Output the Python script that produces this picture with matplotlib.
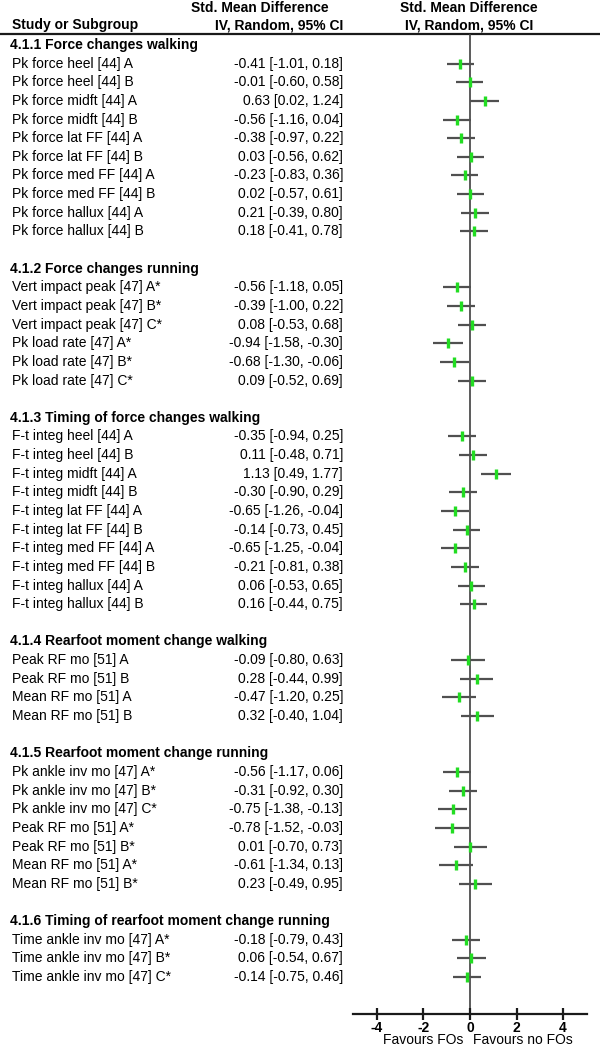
import matplotlib
matplotlib.use("Agg")
import matplotlib.pyplot as plt

plt.rcParams['font.family'] = ['Liberation Sans', 'DejaVu Sans']

section_titles = [
    "4.1.1 Force changes walking",
    "4.1.2 Force changes running",
    "4.1.3 Timing of force changes walking",
    "4.1.4 Rearfoot moment change walking",
    "4.1.5 Rearfoot moment change running",
    "4.1.6 Timing of rearfoot moment change running",
]
section_sizes = [10, 6, 10, 4, 7, 3]

study_labels = [
    "Pk force heel [44] A", "Pk force heel [44] B",
    "Pk force midft [44] A", "Pk force midft [44] B",
    "Pk force lat FF [44] A", "Pk force lat FF [44] B",
    "Pk force med FF [44] A", "Pk force med FF [44] B",
    "Pk force hallux [44] A", "Pk force hallux [44] B",
    "Vert impact peak [47] A*", "Vert impact peak [47] B*", "Vert impact peak [47] C*",
    "Pk load rate [47] A*", "Pk load rate [47] B*", "Pk load rate [47] C*",
    "F-t integ heel [44] A", "F-t integ heel [44] B",
    "F-t integ midft [44] A", "F-t integ midft [44] B",
    "F-t integ lat FF [44] A", "F-t integ lat FF [44] B",
    "F-t integ med FF [44] A", "F-t integ med FF [44] B",
    "F-t integ hallux [44] A", "F-t integ hallux [44] B",
    "Peak RF mo [51] A", "Peak RF mo [51] B",
    "Mean RF mo [51] A", "Mean RF mo [51] B",
    "Pk ankle inv mo [47] A*", "Pk ankle inv mo [47] B*", "Pk ankle inv mo [47] C*",
    "Peak RF mo [51] A*", "Peak RF mo [51] B*",
    "Mean RF mo [51] A*", "Mean RF mo [51] B*",
    "Time ankle inv mo [47] A*", "Time ankle inv mo [47] B*", "Time ankle inv mo [47] C*",
]
smd = [-0.41, -0.01, 0.63, -0.56, -0.38, 0.03, -0.23, 0.02, 0.21, 0.18,
       -0.56, -0.39, 0.08, -0.94, -0.68, 0.09,
       -0.35, 0.11, 1.13, -0.30, -0.65, -0.14, -0.65, -0.21, 0.06, 0.16,
       -0.09, 0.28, -0.47, 0.32,
       -0.56, -0.31, -0.75, -0.78, 0.01, -0.61, 0.23,
       -0.18, 0.06, -0.14]
ci_low = [-1.01, -0.60, 0.02, -1.16, -0.97, -0.56, -0.83, -0.57, -0.39, -0.41,
          -1.18, -1.00, -0.53, -1.58, -1.30, -0.52,
          -0.94, -0.48, 0.49, -0.90, -1.26, -0.73, -1.25, -0.81, -0.53, -0.44,
          -0.80, -0.44, -1.20, -0.40,
          -1.17, -0.92, -1.38, -1.52, -0.70, -1.34, -0.49,
          -0.79, -0.54, -0.75]
ci_high = [0.18, 0.58, 1.24, 0.04, 0.22, 0.62, 0.36, 0.61, 0.80, 0.78,
           0.05, 0.22, 0.68, -0.30, -0.06, 0.69,
           0.25, 0.71, 1.77, 0.29, -0.04, 0.45, -0.04, 0.38, 0.65, 0.75,
           0.63, 0.99, 0.25, 1.04,
           0.06, 0.30, -0.13, -0.03, 0.73, 0.13, 0.95,
           0.43, 0.67, 0.46]
x_ticks = [-4, -2, 0, 2, 4]

# row layout: one line per header/study, blank line between sections
header_rows, study_rows = [], []
line = 0
for n in section_sizes:
    header_rows.append(line)
    study_rows.extend(range(line + 1, line + 1 + n))
    line += n + 2

W, H = 600, 1050
row0_px, row_px = 45.0, 18.64


def px2row(py):
    return (py - row0_px) / row_px


fig = plt.figure(figsize=(W / 100, H / 100), dpi=100)

# text layer in pixel x / row y
ax_t = fig.add_axes([0, 0, 1, 1])
ax_t.set_xlim(0, W)
ax_t.set_ylim(px2row(H), px2row(0))
ax_t.axis('off')

fs = 10
ax_t.text(12, px2row(25), "Study or Subgroup", fontsize=fs, fontweight='bold',
          va='center', ha='left')
ax_t.text(260, px2row(8), "Std. Mean Difference", fontsize=fs, fontweight='bold',
          va='center', ha='center')
ax_t.text(343, px2row(25), "IV, Random, 95% CI", fontsize=fs, fontweight='bold',
          va='center', ha='right')
ax_t.text(469, px2row(8), "Std. Mean Difference", fontsize=fs, fontweight='bold',
          va='center', ha='center')
ax_t.text(469, px2row(25), "IV, Random, 95% CI", fontsize=fs, fontweight='bold',
          va='center', ha='center')
ax_t.plot([0, W], [px2row(34), px2row(34)], color='#1a1a1a', lw=1.6,
          solid_capstyle='butt')

for title, r in zip(section_titles, header_rows):
    ax_t.text(10, r, title, fontsize=fs, fontweight='bold', va='center', ha='left')

for lab, r, m, lo, hi in zip(study_labels, study_rows, smd, ci_low, ci_high):
    ax_t.text(12, r, lab, fontsize=fs, va='center', ha='left')
    ax_t.text(343, r, f"{m:.2f} [{lo:.2f}, {hi:.2f}]", fontsize=fs,
              va='center', ha='right')

ax_t.text(463, px2row(1040), "Favours FOs", fontsize=fs, va='center', ha='right')
ax_t.text(473, px2row(1040), "Favours no FOs", fontsize=fs, va='center', ha='left')

# forest plot axes
top_px, bot_px = 34, 1014
ax = fig.add_axes([353 / W, 1 - bot_px / H, (587 - 353) / W, (bot_px - top_px) / H])
ax.set_xlim(-5.03, 5.03)
ax.set_ylim(px2row(bot_px), px2row(top_px))
ax.patch.set_alpha(0)
for s in ['top', 'left', 'right']:
    ax.spines[s].set_visible(False)
ax.spines['bottom'].set_color('#1a1a1a')
ax.spines['bottom'].set_linewidth(1.6)
ax.set_yticks([])
ax.set_xticks(x_ticks)
ax.set_xticklabels([str(t) for t in x_ticks], fontsize=fs, fontweight='bold')
ax.tick_params(axis='x', direction='inout', length=8, width=1.6,
               color='#1a1a1a', pad=1)

ax.axvline(0, color='#404040', lw=1.2, zorder=1)
ax.hlines(study_rows, ci_low, ci_high, color='#505050', lw=1.6, zorder=2)
ax.scatter(smd, study_rows, marker='|', s=60, linewidths=2.4,
           color='#22dd22', zorder=3)

fig.savefig("out.png", dpi=100)
